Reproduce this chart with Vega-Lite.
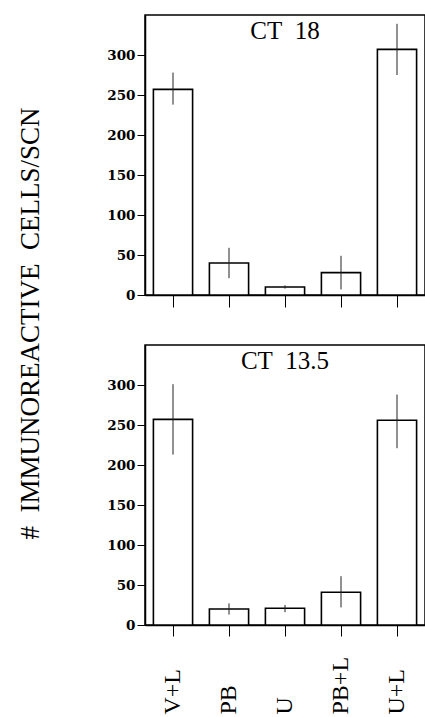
{
  "$schema": "https://vega.github.io/schema/vega-lite/v6.json",
  "background": "white",
  "padding": {"left": 15, "top": 14, "right": 0, "bottom": 0},
  "spacing": 50,
  "bounds": "flush",
  "config": {
    "font": "Liberation Serif",
    "view": {"stroke": "black", "strokeWidth": 1.5},
    "axis": {"domainColor": "black", "domainWidth": 1.5, "tickColor": "black", "tickWidth": 1, "labelColor": "black", "titleColor": "black", "grid": false, "labelFont": "Liberation Serif", "titleFont": "Liberation Serif"}
  },
  "datasets": {
    "ct18": [
      {"group": "V+L", "mean": 257, "lo": 238, "hi": 278},
      {"group": "PB", "mean": 40, "lo": 21, "hi": 59},
      {"group": "U", "mean": 10, "lo": 8, "hi": 12},
      {"group": "PB+L", "mean": 28, "lo": 7, "hi": 49},
      {"group": "U+L", "mean": 307, "lo": 275, "hi": 339}
    ],
    "ct135": [
      {"group": "V+L", "mean": 257, "lo": 213, "hi": 301},
      {"group": "PB", "mean": 20, "lo": 13, "hi": 27},
      {"group": "U", "mean": 21, "lo": 16, "hi": 25},
      {"group": "PB+L", "mean": 41, "lo": 22, "hi": 61},
      {"group": "U+L", "mean": 256, "lo": 221, "hi": 288}
    ]
  },
  "vconcat": [
    {
      "width": 280,
      "height": 280,
      "encoding": {
        "x": {"field": "group", "type": "nominal", "sort": null,
              "scale": {"paddingInner": 0.3, "paddingOuter": 0.15},
              "axis": {"labels": false, "title": null, "tickSize": 12}}
      },
      "layer": [
        {
          "data": {"name": "ct18"},
          "mark": {"type": "bar", "fill": "white", "stroke": "black", "strokeWidth": 1.6},
          "encoding": {
            "y": {"field": "mean", "type": "quantitative", "scale": {"domain": [0, 350], "nice": false},
                  "axis": {"values": [0, 50, 100, 150, 200, 250, 300], "tickSize": 8, "labelPadding": 2, "labelFont": "DejaVu Serif", "labelFontSize": 13.5, "labelFontWeight": "bold",
                           "title": "#\u00a0 IMMUNOREACTIVE\u00a0 CELLS/SCN", "titleFont": "Liberation Serif", "titleFontSize": 27, "titleFontWeight": "normal",
                           "titleAngle": -90, "titleAlign": "center", "titleBaseline": "middle", "titleX": -115, "titleY": 308}}
          }
        },
        {
          "data": {"name": "ct18"},
          "mark": {"type": "rule", "color": "#222", "strokeWidth": 1},
          "encoding": {"y": {"field": "lo", "type": "quantitative"}, "y2": {"field": "hi"}}
        },
        {
          "data": {"values": [{"label": "CT\u00a0 18", "group": "U", "top": 350}]},
          "mark": {"type": "text", "baseline": "top", "align": "center", "dy": 4, "fontSize": 25, "font": "Liberation Serif", "color": "black"},
          "encoding": {"y": {"field": "top", "type": "quantitative"}, "text": {"field": "label"}}
        }
      ]
    },
    {
      "width": 280,
      "height": 280,
      "encoding": {
        "x": {"field": "group", "type": "nominal", "sort": null,
              "scale": {"paddingInner": 0.3, "paddingOuter": 0.15},
              "axis": {"title": null, "tickSize": 11, "labelAngle": -90, "labelAlign": "left", "labelBaseline": "middle", "labelPadding": 78, "labelFont": "Liberation Serif", "labelFontSize": 24}}
      },
      "layer": [
        {
          "data": {"name": "ct135"},
          "mark": {"type": "bar", "fill": "white", "stroke": "black", "strokeWidth": 1.6},
          "encoding": {
            "y": {"field": "mean", "type": "quantitative", "scale": {"domain": [0, 350], "nice": false},
                  "axis": {"values": [0, 50, 100, 150, 200, 250, 300], "tickSize": 8, "labelPadding": 2, "labelFont": "DejaVu Serif", "labelFontSize": 13.5, "labelFontWeight": "bold", "title": null}}
          }
        },
        {
          "data": {"name": "ct135"},
          "mark": {"type": "rule", "color": "#222", "strokeWidth": 1},
          "encoding": {"y": {"field": "lo", "type": "quantitative"}, "y2": {"field": "hi"}}
        },
        {
          "data": {"values": [{"label": "CT\u00a0 13.5", "group": "U", "top": 350}]},
          "mark": {"type": "text", "baseline": "top", "align": "center", "dy": 4, "fontSize": 25, "font": "Liberation Serif", "color": "black"},
          "encoding": {"y": {"field": "top", "type": "quantitative"}, "text": {"field": "label"}}
        }
      ]
    }
  ]
}
